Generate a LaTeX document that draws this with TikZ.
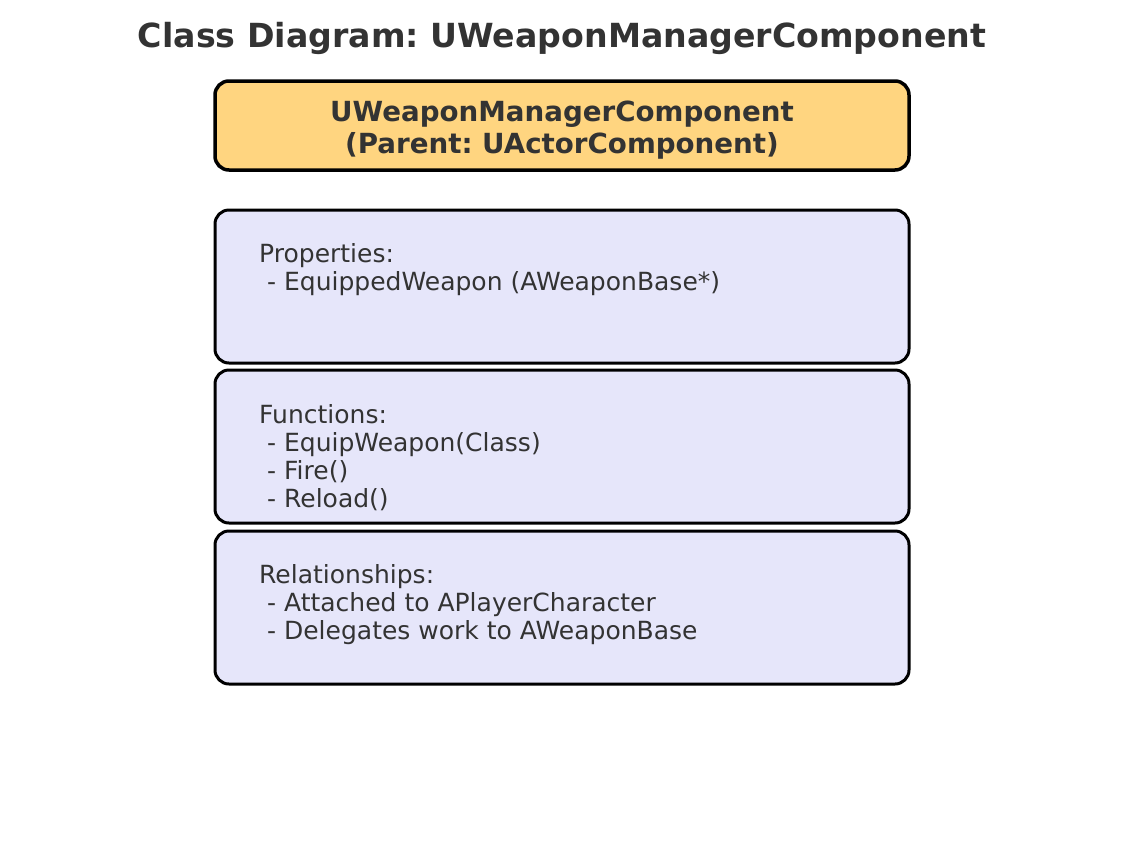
\documentclass[tikz,border=0pt]{standalone}
\usepackage{fontspec}
\setmainfont{DejaVu Sans}
\frenchspacing
\definecolor{txtgray}{HTML}{333333}
\definecolor{hdrfill}{HTML}{FFD580}
\definecolor{secfill}{HTML}{E6E6FA}
\tikzset{
  hdrbox/.style={draw=black, line width=3.5pt, fill=hdrfill, rounded corners=14pt},
  secbox/.style={draw=black, line width=3pt, fill=secfill, rounded corners=14pt},
  sectext/.style={anchor=north west, inner sep=0pt, align=left, text=txtgray,
    font=\fontsize{25}{28}\selectfont},
}
\begin{document}
\begin{tikzpicture}[x=1pt, y=-1pt]
  \useasboundingbox (0,0) rectangle (1124,852);
  % title
  \node[text=txtgray, font=\bfseries\fontsize{33.2}{40}\selectfont] (title) at (562,38)
    {Class Diagram: UWeaponManagerComponent};
  % class header
  \draw[hdrbox] (215,81) rectangle (909,170);
  \node[align=center, text=txtgray, font=\bfseries\fontsize{27.7}{32}\selectfont] (hdr) at (562,130)
    {UWeaponManagerComponent\\(Parent: UActorComponent)};
  % sections
  \draw[secbox] (215,210) rectangle (909,363);
  \node[sectext] (props) at (259,243) {Properties:\\ \ - EquippedWeapon (AWeaponBase*)};
  \draw[secbox] (215,370) rectangle (909,523);
  \node[sectext] (funcs) at (259,404) {Functions:\\ \ - EquipWeapon(Class)\\ \ - Fire()\\ \ - Reload()};
  \draw[secbox] (215,531) rectangle (909,684);
  \node[sectext] (rels) at (259,564) {Relationships:\\ \ - Attached to APlayerCharacter\\ \ - Delegates work to AWeaponBase};
\end{tikzpicture}
\end{document}
